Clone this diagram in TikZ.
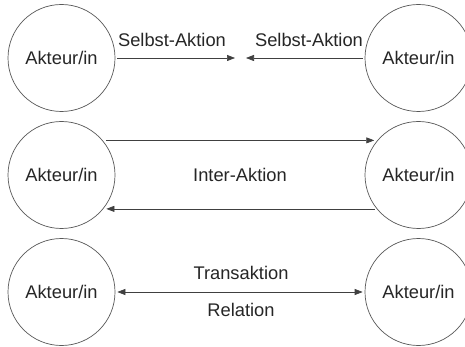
\documentclass[tikz,border=0pt]{standalone}
\usepackage{fontspec}
\setmainfont{Liberation Sans}
\usetikzlibrary{arrows.meta}
\begin{document}
\begin{tikzpicture}[x=1pt,y=-1pt,
  actor/.style={circle,draw=black!65,line width=0.7pt,minimum size=107pt,inner sep=0pt,font=\fontsize{18.3}{21}\selectfont,text=black!85},
  lbl/.style={font=\fontsize{18.3}{21}\selectfont,text=black!85,inner sep=0pt},
  arr/.style={draw=black!75,line width=0.7pt,-{Triangle[length=8pt,width=6pt]}},
  darr/.style={draw=black!75,line width=0.7pt,{Triangle[length=8pt,width=6pt]}-{Triangle[length=8pt,width=6pt]}}]
\fill[white] (0,0) rectangle (465,347);
\useasboundingbox (0,0) rectangle (465,347);
% row 1
\node[actor] (L1) at (61.5,58) {Akteur/in};
\node[actor] (R1) at (418.5,58) {Akteur/in};
\coordinate (c1) at (235,58);
\coordinate (c2) at (246,58);
\draw[arr] ([xshift=2pt]L1.east) -- (c1);
\draw[arr] ([xshift=-2pt]R1.west) -- (c2);
\node[lbl] (s1) at (172,40) {Selbst-Aktion};
\node[lbl] (s2) at (309,40) {Selbst-Aktion};
% row 2
\node[actor] (L2) at (61.5,175) {Akteur/in};
\node[actor] (R2) at (418.5,175) {Akteur/in};
\draw[arr,shorten <=3pt,shorten >=3pt] (L2.40) -- (R2.140);
\draw[arr,shorten <=2pt,shorten >=3pt] (R2.219) -- (L2.321);
\node[lbl] (ia) at (240,175) {Inter-Aktion};
% row 3
\node[actor] (L3) at (61.5,292) {Akteur/in};
\node[actor] (R3) at (418.5,292) {Akteur/in};
\draw[darr,shorten <=2pt,shorten >=2pt] (L3.east) -- (R3.west);
\node[lbl] (ta) at (241,273) {Transaktion};
\node[lbl] (re) at (241,310) {Relation};
\end{tikzpicture}
\end{document}
